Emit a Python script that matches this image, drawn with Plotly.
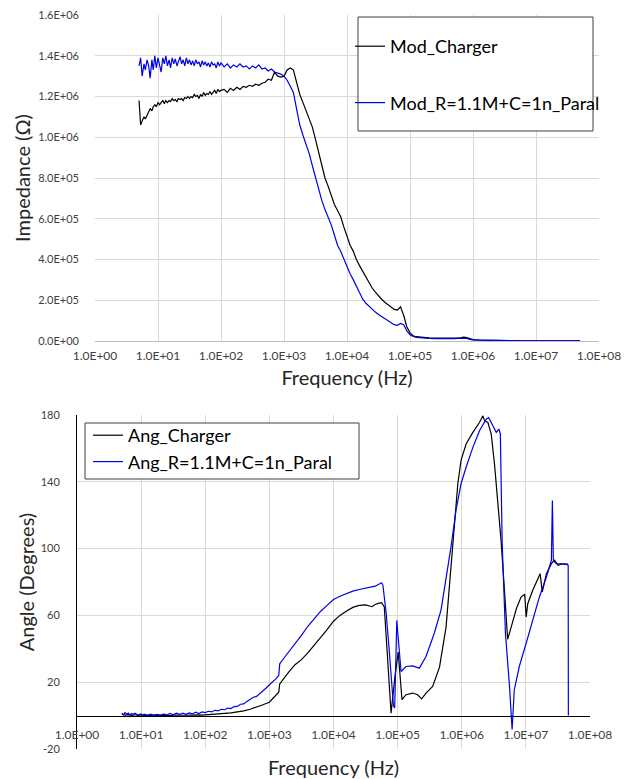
import plotly.graph_objects as go

# ---------------- Impedance (top chart) ----------------
freq_mod_hz = [
    5.0, 5.3, 5.6, 6.0, 6.3, 6.7, 7.1, 7.5, 8.0, 8.4, 8.9, 9.4,
    10, 10.6, 11.2, 11.9, 12.6, 13.3, 14.1, 15.0, 15.8, 16.8, 17.8, 18.8, 20, 21, 22.4, 23.7, 25.1, 26.6, 28.2, 29.9,
    31.6, 33.5, 35.5, 37.6, 39.8, 42.2, 44.7, 47.3, 50.1, 53.1, 56.2, 59.6, 63.1, 66.8, 70.8, 75.0, 79.4, 84.1, 89.1, 94.4,
    100, 112, 126, 141, 158, 178, 200, 224, 251, 282, 316, 355, 398, 447, 501, 562, 631, 708, 794, 891,
    1000, 1120, 1260, 1410, 1580, 1780, 2000, 2240, 2510, 2820, 3160, 3550, 3980, 4470, 5010, 5620, 6310, 7080, 7940, 8910,
    10000, 11200, 12600, 14100, 15800, 17800, 20000, 22400, 25100, 28200, 31600, 35500, 39800, 44700, 50100, 56200, 63100, 70800, 79400, 89100,
    1.0e5, 1.12e5, 1.26e5, 1.41e5, 1.58e5, 1.78e5, 2.0e5, 2.51e5, 3.16e5, 3.98e5, 5.01e5, 6.31e5, 7.08e5, 7.94e5, 8.91e5,
    1.0e6, 1.26e6, 1.58e6, 2.0e6, 2.51e6, 3.16e6, 3.98e6, 5.01e6, 6.31e6, 7.94e6, 1.0e7, 1.26e7, 1.58e7, 2.0e7, 2.51e7, 3.16e7, 3.98e7, 5.01e7,
]

mod_charger = [
    1.18e6, 1.06e6, 1.08e6, 1.10e6, 1.09e6, 1.11e6, 1.12e6, 1.14e6, 1.13e6, 1.15e6, 1.16e6, 1.15e6,
    1.17e6, 1.16e6, 1.17e6, 1.18e6, 1.165e6, 1.18e6, 1.17e6, 1.18e6, 1.175e6, 1.19e6, 1.18e6, 1.185e6, 1.175e6, 1.19e6, 1.185e6, 1.19e6, 1.18e6, 1.195e6, 1.19e6, 1.20e6,
    1.19e6, 1.20e6, 1.195e6, 1.21e6, 1.20e6, 1.205e6, 1.19e6, 1.21e6, 1.20e6, 1.22e6, 1.205e6, 1.215e6, 1.21e6, 1.225e6, 1.21e6, 1.22e6, 1.23e6, 1.215e6, 1.235e6, 1.225e6,
    1.23e6, 1.235e6, 1.22e6, 1.24e6, 1.23e6, 1.245e6, 1.235e6, 1.25e6, 1.245e6, 1.255e6, 1.25e6, 1.26e6, 1.255e6, 1.265e6, 1.27e6, 1.285e6, 1.28e6, 1.32e6, 1.30e6, 1.295e6,
    1.30e6, 1.33e6, 1.34e6, 1.33e6, 1.27e6, 1.21e6, 1.17e6, 1.13e6, 1.10e6, 1.05e6, 0.99e6, 0.93e6, 0.86e6, 0.80e6, 0.76e6, 0.71e6, 0.67e6, 0.64e6, 0.61e6, 0.56e6,
    0.51e6, 0.47e6, 0.44e6, 0.40e6, 0.37e6, 0.34e6, 0.31e6, 0.285e6, 0.26e6, 0.24e6, 0.22e6, 0.205e6, 0.19e6, 0.178e6, 0.166e6, 0.155e6, 0.152e6, 0.168e6, 0.125e6, 0.07e6,
    0.04e6, 0.026e6, 0.021e6, 0.019e6, 0.017e6, 0.016e6, 0.015e6, 0.014e6, 0.013e6, 0.013e6, 0.014e6, 0.016e6, 0.019e6, 0.017e6, 0.011e6,
    0.007e6, 0.005e6, 0.004e6, 0.003e6, 0.003e6, 0.002e6, 0.002e6, 0.002e6, 0.001e6, 0.001e6, 0.001e6, 0.001e6, 0.001e6, 0.001e6, 0.001e6, 0.001e6, 0.001e6, 0.001e6,
]

mod_paral = [
    1.35e6, 1.39e6, 1.30e6, 1.36e6, 1.33e6, 1.38e6, 1.35e6, 1.29e6, 1.38e6, 1.33e6, 1.40e6, 1.34e6,
    1.39e6, 1.35e6, 1.32e6, 1.39e6, 1.36e6, 1.40e6, 1.35e6, 1.38e6, 1.34e6, 1.39e6, 1.36e6, 1.385e6, 1.35e6, 1.37e6, 1.395e6, 1.36e6, 1.38e6, 1.35e6, 1.39e6, 1.36e6,
    1.38e6, 1.355e6, 1.375e6, 1.35e6, 1.38e6, 1.36e6, 1.37e6, 1.345e6, 1.375e6, 1.355e6, 1.37e6, 1.35e6, 1.365e6, 1.345e6, 1.37e6, 1.355e6, 1.36e6, 1.34e6, 1.37e6, 1.35e6,
    1.365e6, 1.345e6, 1.36e6, 1.34e6, 1.355e6, 1.345e6, 1.36e6, 1.345e6, 1.35e6, 1.335e6, 1.35e6, 1.34e6, 1.355e6, 1.335e6, 1.34e6, 1.325e6, 1.335e6, 1.32e6, 1.315e6, 1.31e6,
    1.30e6, 1.28e6, 1.25e6, 1.22e6, 1.14e6, 1.06e6, 1.01e6, 0.97e6, 0.92e6, 0.86e6, 0.80e6, 0.74e6, 0.69e6, 0.645e6, 0.61e6, 0.57e6, 0.52e6, 0.47e6, 0.44e6, 0.40e6,
    0.37e6, 0.33e6, 0.30e6, 0.27e6, 0.24e6, 0.205e6, 0.185e6, 0.17e6, 0.155e6, 0.142e6, 0.13e6, 0.12e6, 0.11e6, 0.10e6, 0.09e6, 0.08e6, 0.077e6, 0.086e6, 0.08e6, 0.05e6,
    0.03e6, 0.022e6, 0.018e6, 0.016e6, 0.015e6, 0.014e6, 0.013e6, 0.012e6, 0.011e6, 0.011e6, 0.012e6, 0.014e6, 0.015e6, 0.013e6, 0.008e6,
    0.005e6, 0.004e6, 0.003e6, 0.002e6, 0.002e6, 0.001e6, 0.001e6, 0.001e6, 0.001e6, 0.001e6, 0.001e6, 0.001e6, 0.001e6, 0.001e6, 0.001e6, 0.001e6, 0.001e6, 0.001e6,
]

# ---------------- Angle (bottom chart) ----------------
freq_ang_charger_hz = [
    5.0, 5.6, 6.3, 7.1, 8.0, 8.9, 10, 11.2, 12.6, 14.1, 15.8, 17.8, 20, 22.4, 25.1, 28.2, 31.6, 35.5, 39.8, 44.7, 50.1, 56.2, 63.1, 70.8, 79.4, 89.1,
    100, 126, 158, 200, 251, 316, 398, 501, 631, 794, 1000, 1120, 1260, 1400,
    1450, 1580, 1780, 2000, 2510, 2900, 3160, 3980, 5010, 6310, 7940, 10000, 12600, 15800, 20000, 25100, 31600, 39800, 44700, 50100, 56200, 62000,
    79000, 90000, 102000, 117000, 135000, 171000, 205000, 237000, 277000, 352000, 450000, 569000, 642000, 724000, 869000, 977000,
    1170000, 1490000, 1890000, 2140000, 2270000, 2560000, 2880000, 3240000, 3650000, 4100000, 4600000, 5200000, 5900000, 7100000, 8400000, 9600000,
    10100000, 10700000, 12800000, 16700000, 18000000, 20900000, 25000000, 28000000, 31700000, 35600000, 45700000,
]
ang_charger = [
    0.8, 0.3, 0.6, 0.2, 0.5, 0.1, 0.4, 0.0, 0.3, 0.1, 0.4, 0.0, 0.3, 0.1, 0.2, 0.0, 0.3, 0.1, 0.3, 0.2, 0.3, 0.2, 0.3, 0.2, 0.4, 0.3,
    0.5, 0.7, 1.0, 1.3, 1.6, 2.0, 2.8, 3.8, 5.0, 6.5, 8.0, 10.0, 12.0, 14.0,
    19.0, 21.0, 23.5, 26.0, 30.5, 32.5, 33.5, 37.5, 42.0, 46.5, 51.5, 56.5, 60.0, 62.5, 64.8, 66.0, 66.3, 65.2, 66.5, 67.2, 67.6, 65.0,
    1.5, 22.0, 38.0, 9.5, 12.5, 13.5, 12.5, 10.0, 13.5, 17.5, 29.0, 53.0, 77.0, 105.0, 139.0, 153.0,
    162.6, 169.6, 175.5, 179.5, 176.5, 175.5, 168.6, 150.7, 128.8, 105.0, 77.0, 45.7, 53.0, 64.0, 71.0, 72.6,
    59.0, 67.0, 75.0, 85.0, 74.0, 85.0, 91.0, 93.0, 90.0, 90.7, 90.7,
]

freq_ang_paral_hz = [
    5.0, 5.3, 5.6, 6.0, 6.3, 6.7, 7.1, 7.5, 8.0, 8.9, 10, 10.6, 11.2, 12.6, 14.1, 15.8, 17.8, 20, 22.4, 25.1, 28.2, 31.6, 35.5, 39.8, 44.7, 50.1, 56.2, 63.1, 70.8, 79.4, 89.1,
    100, 112, 126, 141, 158, 178, 200, 224, 251, 282, 316, 355, 398, 447, 501, 562, 631, 708, 794, 891, 1000, 1120, 1260, 1400,
    1450, 1580, 1780, 2000, 2510, 3160, 3980, 5010, 6310, 7940, 10000, 12600, 15800, 20000, 25100, 31600, 39800, 44700, 50100, 56200,
    59000, 66000, 74000, 86000, 90000, 97000, 113000, 135000, 171000, 218000, 277000, 373000, 475000, 569000, 680000, 815000, 977000,
    1170000, 1490000, 1890000, 2400000, 2630000, 3030000, 3450000, 3800000, 4000000, 4270000, 4800000, 5560000, 6100000, 6600000, 7900000,
    10100000, 12800000, 16300000, 20900000, 25000000, 25900000, 26800000, 29700000, 42400000, 45700000, 46000000,
]
ang_paral = [
    1.5, 0.5, 1.8, 0.8, 1.5, 0.4, 1.2, 0.6, 1.4, 0.3, 1.0, 0.2, 0.8, 0.2, 0.9, 0.1, 0.7, 0.2, 0.9, 0.4, 1.3, 0.5, 1.4, 0.7, 1.5, 0.8, 1.6, 1.0, 2.0, 1.2, 2.2,
    1.8, 2.6, 2.2, 3.2, 2.8, 3.8, 3.5, 4.5, 4.2, 5.4, 5.5, 6.8, 7.0, 8.5, 9.5, 11.0, 11.5, 13.0, 14.5, 16.5, 18.5, 20.0, 22.0, 24.0,
    31.0, 33.0, 35.5, 38.0, 42.5, 48.0, 53.5, 58.0, 62.5, 66.0, 69.5, 71.5, 73.0, 74.5, 75.5, 76.3, 77.0, 77.5, 78.5, 79.5,
    78.0, 62.0, 39.0, 6.0, 4.6, 57.0, 26.4, 29.4, 29.8, 28.4, 35.4, 49.3, 63.2, 81.0, 101.0, 123.0, 139.0,
    148.7, 160.6, 170.6, 177.5, 178.5, 173.6, 169.6, 171.6, 168.6, 103.0, 49.3, 17.5, -8.3, 15.5, 29.4,
    43.3, 57.3, 71.2, 83.0, 93.0, 128.8, 93.0, 91.0, 90.7, 90.0, 0.0,
]

# ---------------- Ticks ----------------
freq_tickvals = [1, 10, 100, 1e3, 1e4, 1e5, 1e6, 1e7, 1e8]
freq_ticktext = ["1.0E+00", "1.0E+01", "1.0E+02", "1.0E+03", "1.0E+04",
                 "1.0E+05", "1.0E+06", "1.0E+07", "1.0E+08"]
mod_tickvals = [0, 2e5, 4e5, 6e5, 8e5, 1.0e6, 1.2e6, 1.4e6, 1.6e6]
mod_ticktext = ["0.0E+00", "2.0E+05", "4.0E+05", "6.0E+05", "8.0E+05",
                "1.0E+06", "1.2E+06", "1.4E+06", "1.6E+06"]
ang_tickvals = [-20, 20, 60, 100, 140, 180]
ang_ticktext = ["-20", "20", "60", "100", "140", "180"]

W, H = 628, 779
FONT = "Lato, 'Open Sans', sans-serif"
GRID = "#d9d9d9"
BLUE = "#0000e6"


def px(x):
    return x / W


def py(y):
    return 1 - y / H


fig = go.Figure()
fig.add_trace(go.Scatter(x=freq_mod_hz, y=mod_charger, name="Mod_Charger", mode="lines",
                         line=dict(color="#000000", width=1.2), xaxis="x", yaxis="y",
                         legend="legend", legendgroup="m1"))
fig.add_trace(go.Scatter(x=freq_mod_hz, y=mod_paral, name="Mod_R=1.1M+C=1n_Paral", mode="lines",
                         line=dict(color=BLUE, width=1.2), xaxis="x", yaxis="y",
                         legend="legend", legendgroup="m2"))
fig.add_trace(go.Scatter(x=freq_ang_charger_hz, y=ang_charger, name="Ang_Charger", mode="lines",
                         line=dict(color="#000000", width=1.2), xaxis="x2", yaxis="y2",
                         legend="legend2", legendgroup="a1"))
fig.add_trace(go.Scatter(x=freq_ang_paral_hz, y=ang_paral, name="Ang_R=1.1M+C=1n_Paral", mode="lines",
                         line=dict(color=BLUE, width=1.2), xaxis="x2", yaxis="y2",
                         legend="legend2", legendgroup="a2"))

xtickfont = dict(family=FONT, size=12, color="#404040")
ytickfont = dict(family=FONT, size=11, color="#404040")
titlefont = dict(family=FONT, size=20, color="#262626")

fig.update_layout(
    width=W, height=H, autosize=False,
    margin=dict(l=0, r=0, t=0, b=0),
    paper_bgcolor="white", plot_bgcolor="white",
    font=dict(family=FONT, color="#262626"),
    xaxis=dict(type="log", domain=[px(95), px(599)], range=[0, 8], anchor="y",
               tickvals=freq_tickvals, ticktext=freq_ticktext, tickfont=xtickfont,
               showgrid=True, gridcolor=GRID, gridwidth=1, zeroline=False,
               showline=True, linecolor="#bfbfbf", linewidth=1, ticks="",
               ticklabelstandoff=4, automargin=False,
               title=dict(text="Frequency (Hz)", font=titlefont, standoff=8)),
    yaxis=dict(domain=[py(341), py(15)], range=[0, 1.6e6], anchor="x",
               tickvals=mod_tickvals, ticktext=mod_ticktext, tickfont=ytickfont,
               showgrid=True, gridcolor=GRID, gridwidth=1, zeroline=False,
               showline=False, ticks="", ticklabelstandoff=15, automargin=False,
               title=dict(text="Impedance (Ω)", font=titlefont, standoff=2)),
    xaxis2=dict(type="log", domain=[px(77), px(590)], range=[0, 8], anchor="free",
                position=py(716),
                tickvals=freq_tickvals, ticktext=freq_ticktext, tickfont=xtickfont,
                showgrid=True, gridcolor=GRID, gridwidth=1, zeroline=False,
                showline=True, linecolor="#000000", linewidth=1, ticks="",
                ticklabelstandoff=8, automargin=False,
                title=dict(text="Frequency (Hz)", font=titlefont, standoff=22)),
    yaxis2=dict(domain=[py(749), py(415)], range=[-20, 180], anchor="x2",
                tickvals=ang_tickvals, ticktext=ang_ticktext, tickfont=ytickfont,
                showgrid=True, gridcolor=GRID, gridwidth=1, zeroline=False,
                showline=True, linecolor="#000000", linewidth=1, ticks="",
                ticklabelstandoff=14, automargin=False,
                title=dict(text="Angle (Degrees)", font=titlefont, standoff=0)),
    legend=dict(x=px(350), y=py(28), xanchor="left", yanchor="top",
                bgcolor="rgba(0,0,0,0)", borderwidth=0,
                font=dict(family=FONT, size=18, color="#000000"),
                traceorder="grouped", tracegroupgap=30, itemwidth=30),
    legend2=dict(x=px(88), y=py(417), xanchor="left", yanchor="top",
                 bgcolor="rgba(0,0,0,0)", borderwidth=0,
                 font=dict(family=FONT, size=18, color="#000000"),
                 traceorder="grouped", tracegroupgap=0, itemwidth=30),
    shapes=[
        dict(type="rect", xref="paper", yref="paper", x0=px(358), x1=px(593), y0=py(131), y1=py(17),
             line=dict(color="#404040", width=1), fillcolor="white", layer="above"),
        dict(type="rect", xref="paper", yref="paper", x0=px(85), x1=px(359), y0=py(479), y1=py(423),
             line=dict(color="#404040", width=1), fillcolor="white", layer="above"),
    ],
)

fig.write_html(
    "out.html",
    config={"displayModeBar": False},
    post_script="document.body.style.margin='0px';document.body.style.padding='0px';",
)
